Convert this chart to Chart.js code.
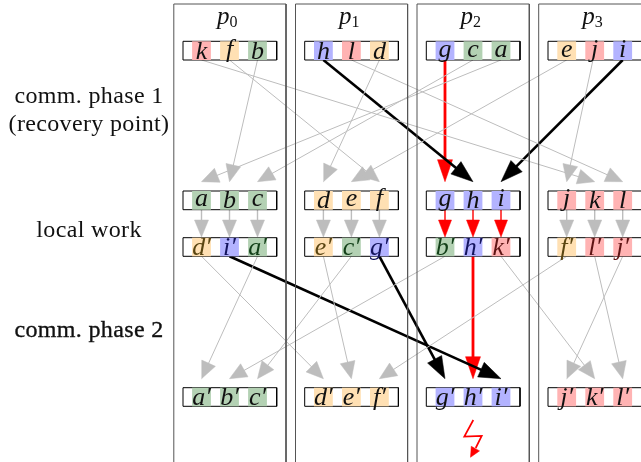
<!DOCTYPE html>
<html>
<head>
<meta charset="utf-8">
<style>
  html, body { margin: 0; padding: 0; background: #fff; }
  canvas { display: block; }
</style>
<script src="https://cdn.jsdelivr.net/npm/chart.js@4"></script>
</head>
<body>
<canvas id="diagram" width="641" height="462"></canvas>
<script>
const processNames = ["0", "1", "2", "3"];
const sideLabels = ["comm. phase 1", "(recovery point)", "local work", "comm. phase 2"];

// the letters held by each row of cells, left to right
const row1 = ["k", "f", "b", "h", "l", "d", "g", "c", "a", "e", "j", "i"];
const row2 = ["a", "b", "c", "d", "e", "f", "g", "h", "i", "j", "k", "l"];
const row3 = ["d'", "i'", "a'", "e'", "c'", "g'", "b'", "h'", "k'", "f'", "l'", "j'"];
const row4 = ["a'", "b'", "c'", "d'", "e'", "f'", "g'", "h'", "i'", "j'", "k'", "l'"];

const boldLinks = ["h", "i", "g'", "i'"];
const redLinks = ["g", "h'"];
const redLocal = ["g", "h", "i"];

const blueLetters = ["g", "h", "i"];
const redLetters = ["j", "k", "l"];
const orangeLetters = ["d", "e", "f"];
const greenLetters = ["a", "b", "c"];

// axis positions
const cellCenters = [201.5, 229.5, 257.5, 323.4, 351.4, 379.4, 445, 473, 501, 566.7, 594.7, 622.7];
const rowLefts = [183, 304.7, 426.3, 548];
const columnLefts = [173.8, 295.5, 417, 538.7];
const columnRights = [286, 407.6, 529.3, 651];
const rowTops = [41.3, 191, 237.7, 387.7];
const rowBottoms = [60, 209.7, 256.3, 406.3];
const arrowTips = [181.7, 237, 378.7];
const boltLine = [[473.3, 420], [464.3, 436.7], [481.7, 436], [475.7, 448]];
const boltTip = [470.5, 457.3];

const GRAY = "#bdbdbd";
const RED = "#ff0000";
const BLACK = "#000000";
const serif = '"Liberation Serif", serif';

function line(points, color, width) {
  return {
    data: points.map((p) => ({ x: p[0], y: p[1] })),
    showLine: true,
    borderColor: color,
    borderWidth: width,
    borderCapStyle: "butt",
    borderJoinStyle: "miter",
    pointRadius: 0,
    tension: 0,
    fill: false,
    clip: 0,
  };
}

function head(from, to, color, len, wide) {
  const dx = to[0] - from[0];
  const dy = to[1] - from[1];
  const d = Math.sqrt(dx * dx + dy * dy);
  const bx = to[0] - (dx / d) * len;
  const by = to[1] - (dy / d) * len;
  const nx = (-dy / d) * (wide / 2);
  const ny = (dx / d) * (wide / 2);
  const ds = line([to, [bx + nx, by + ny], [bx - nx, by - ny], to], color, 0.5);
  ds.fill = "shape";
  ds.backgroundColor = color;
  return ds;
}

function arrow(from, to, color, width, len, wide) {
  const dx = to[0] - from[0];
  const dy = to[1] - from[1];
  const d = Math.sqrt(dx * dx + dy * dy);
  const stop = [to[0] - (dx / d) * (len - 1), to[1] - (dy / d) * (len - 1)];
  return [line([from, stop], color, width), head(from, to, color, len, wide)];
}

function cellColor(letter) {
  const base = letter[0];
  if (blueLetters.includes(base)) return "#b3b3ff";
  if (redLetters.includes(base)) return "#ffb3b3";
  if (orangeLetters.includes(base)) return "#ffe0b3";
  return "#b3d1b3";
}

function textColor(letter, rowIndex) {
  if (rowIndex !== 2) return "#111111";
  const base = letter[0];
  if (blueLetters.includes(base)) return "#14145e";
  if (redLetters.includes(base)) return "#5e1414";
  if (orangeLetters.includes(base)) return "#5a4512";
  return "#123f18";
}

const rows = [row1, row2, row3, row4];
const thin = [];
const bold = [];
const red = [];

// row 1 to row 2
row1.forEach((letter, i) => {
  const to = [cellCenters[row2.indexOf(letter)], arrowTips[0]];
  // the j link starts from the top of its cell
  const from = [cellCenters[i], rowBottoms[0]];
  if (letter === "j") {
    from[0] = 597;
    from[1] = rowTops[0];
  }
  if (redLinks.includes(letter)) red.push(...arrow(from, to, RED, 2.8, 22, 15));
  else if (boldLinks.includes(letter)) bold.push(...arrow(from, to, BLACK, 2.6, 22, 16));
  else thin.push(...arrow(from, to, GRAY, 1, 17, 15));
});

// row 2 to row 3
row2.forEach((letter, i) => {
  const from = [cellCenters[i], rowBottoms[1]];
  const to = [cellCenters[i], arrowTips[1]];
  if (redLocal.includes(letter)) red.push(...arrow(from, to, RED, 1.4, 17, 13));
  else thin.push(...arrow(from, to, GRAY, 1.4, 17, 14));
});

// row 3 to row 4
row3.forEach((letter, i) => {
  const from = [cellCenters[i], rowBottoms[2]];
  const to = [cellCenters[row4.indexOf(letter)], arrowTips[2]];
  if (redLinks.includes(letter)) red.push(...arrow(from, to, RED, 2.8, 22, 15));
  else if (boldLinks.includes(letter)) bold.push(...arrow(from, to, BLACK, 2.6, 22, 16));
  else thin.push(...arrow(from, to, GRAY, 1, 17, 15));
});

const columns = columnLefts.map((left, i) =>
  line([[left, 470], [left, 4], [columnRights[i], 4], [columnRights[i], 470]], "#555555", 1)
);

const cellFills = [];
const rowBoxes = [];
rows.forEach((row, r) => {
  const mid = (rowTops[r] + rowBottoms[r]) / 2;
  row.forEach((letter, i) => {
    cellFills.push(
      line([[cellCenters[i] - 9.4, mid], [cellCenters[i] + 9.4, mid]], cellColor(letter), rowBottoms[r] - rowTops[r])
    );
  });
  rowLefts.forEach((left) => {
    const right = left + 93.7;
    rowBoxes.push(
      line([[left, rowTops[r]], [right, rowTops[r]], [right, rowBottoms[r]], [left, rowBottoms[r]], [left, rowTops[r]]], BLACK, 1)
    );
  });
});

const bolt = [line([...boltLine], RED, 1.7), head(boltLine[3], boltTip, RED, 10, 9.5)];

const labelPlugin = {
  id: "labels",
  afterDatasetsDraw(chart) {
    const ctx = chart.ctx;
    const xs = chart.scales.x;
    const ys = chart.scales.y;
    ctx.save();
    ctx.textBaseline = "alphabetic";

    // side labels
    ctx.textAlign = "center";
    ctx.fillStyle = "#111111";
    ctx.font = "24px " + serif;
    ctx.letterSpacing = "0.35px";
    const sideY = [102.7, 130.7, 236.7, 336.7];
    sideLabels.forEach((text, i) => {
      ctx.fillText(text, xs.getPixelForValue(89), ys.getPixelForValue(sideY[i]));
    });
    ctx.strokeStyle = "#111111";
    ctx.lineWidth = 0.35;
    ctx.strokeText(sideLabels[3], xs.getPixelForValue(89), ys.getPixelForValue(sideY[3]));
    ctx.letterSpacing = "0px";

    // process headers
    processNames.forEach((name, i) => {
      const cx = xs.getPixelForValue(cellCenters[i * 3 + 1]);
      const y = ys.getPixelForValue(24);
      ctx.textAlign = "right";
      ctx.font = "italic 25px " + serif;
      ctx.fillText("p", cx, y);
      ctx.textAlign = "left";
      ctx.font = "16px " + serif;
      ctx.fillText(name, cx, y + 3);
    });

    // cell letters
    ctx.textAlign = "center";
    ctx.font = "italic 26px " + serif;
    const baselines = [57, 206, 255, 405];
    rows.forEach((row, r) => {
      row.forEach((letter, i) => {
        const tall = "bdhkl".includes(letter[0]) && r < 2;
        const y = baselines[r] + (tall ? 2 : 0);
        ctx.fillStyle = textColor(letter, r);
        ctx.fillText(letter.replace("'", "\u2032"), xs.getPixelForValue(cellCenters[i]), ys.getPixelForValue(y));
      });
    });
    ctx.restore();
  },
};

new Chart(document.getElementById("diagram").getContext("2d"), {
  type: "scatter",
  data: {
    datasets: [...columns, ...cellFills, ...rowBoxes, ...thin, ...bold, ...red, ...bolt],
  },
  options: {
    responsive: false,
    animation: false,
    layout: { padding: 0 },
    plugins: {
      legend: { display: false },
      tooltip: { enabled: false },
    },
    scales: {
      x: { type: "linear", min: 0, max: 641, display: false },
      y: { type: "linear", min: 0, max: 462, reverse: true, display: false },
    },
  },
  plugins: [labelPlugin],
});
</script>
</body>
</html>
